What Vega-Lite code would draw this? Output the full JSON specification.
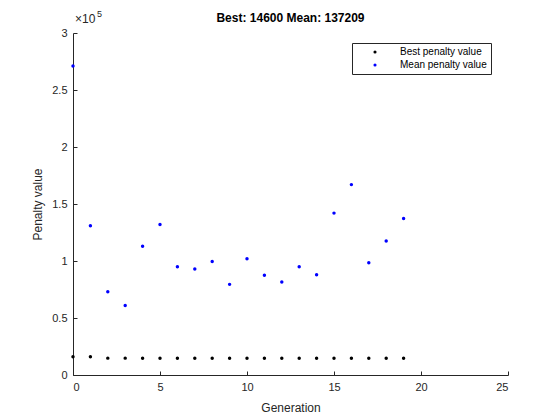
{
  "$schema": "https://vega.github.io/schema/vega-lite/v6.json",
  "width": 435,
  "height": 342,
  "autosize": {"type": "none"},
  "padding": {"left": 73, "top": 33, "right": 52, "bottom": 45},
  "background": "white",
  "config": {
    "font": "Liberation Sans",
    "view": {"stroke": null},
    "axis": {"grid": false, "domainColor": "#262626", "tickColor": "#262626", "labelColor": "#262626", "titleColor": "#262626", "labelFontSize": 11, "titleFontSize": 12, "titleFontWeight": "normal", "tickSize": -4, "labelPadding": 10}
  },
  "title": {"text": "Best: 14600 Mean: 137209", "fontSize": 12, "fontWeight": "bold", "color": "#000000", "offset": 9, "dy": 24, "font": "Liberation Sans"},
  "data": {"values": [
    {"Generation": 0, "series": "Best penalty value", "value": 16000},
    {"Generation": 1, "series": "Best penalty value", "value": 16000},
    {"Generation": 2, "series": "Best penalty value", "value": 14800},
    {"Generation": 3, "series": "Best penalty value", "value": 14800},
    {"Generation": 4, "series": "Best penalty value", "value": 14700},
    {"Generation": 5, "series": "Best penalty value", "value": 14700},
    {"Generation": 6, "series": "Best penalty value", "value": 14700},
    {"Generation": 7, "series": "Best penalty value", "value": 14700},
    {"Generation": 8, "series": "Best penalty value", "value": 14700},
    {"Generation": 9, "series": "Best penalty value", "value": 14600},
    {"Generation": 10, "series": "Best penalty value", "value": 14600},
    {"Generation": 11, "series": "Best penalty value", "value": 14600},
    {"Generation": 12, "series": "Best penalty value", "value": 14600},
    {"Generation": 13, "series": "Best penalty value", "value": 14600},
    {"Generation": 14, "series": "Best penalty value", "value": 14600},
    {"Generation": 15, "series": "Best penalty value", "value": 14600},
    {"Generation": 16, "series": "Best penalty value", "value": 14600},
    {"Generation": 17, "series": "Best penalty value", "value": 14600},
    {"Generation": 18, "series": "Best penalty value", "value": 14600},
    {"Generation": 19, "series": "Best penalty value", "value": 14600},
    {"Generation": 0, "series": "Mean penalty value", "value": 271000},
    {"Generation": 1, "series": "Mean penalty value", "value": 131000},
    {"Generation": 2, "series": "Mean penalty value", "value": 73000},
    {"Generation": 3, "series": "Mean penalty value", "value": 61000},
    {"Generation": 4, "series": "Mean penalty value", "value": 113000},
    {"Generation": 5, "series": "Mean penalty value", "value": 132000},
    {"Generation": 6, "series": "Mean penalty value", "value": 95000},
    {"Generation": 7, "series": "Mean penalty value", "value": 93000},
    {"Generation": 8, "series": "Mean penalty value", "value": 99500},
    {"Generation": 9, "series": "Mean penalty value", "value": 79500},
    {"Generation": 10, "series": "Mean penalty value", "value": 102000},
    {"Generation": 11, "series": "Mean penalty value", "value": 87500},
    {"Generation": 12, "series": "Mean penalty value", "value": 81500},
    {"Generation": 13, "series": "Mean penalty value", "value": 95000},
    {"Generation": 14, "series": "Mean penalty value", "value": 88000},
    {"Generation": 15, "series": "Mean penalty value", "value": 142000},
    {"Generation": 16, "series": "Mean penalty value", "value": 167000},
    {"Generation": 17, "series": "Mean penalty value", "value": 98500},
    {"Generation": 18, "series": "Mean penalty value", "value": 117500},
    {"Generation": 19, "series": "Mean penalty value", "value": 137209}
  ]},
  "layer": [
    {
      "mark": {"type": "point", "filled": true, "size": 12, "opacity": 1},
      "encoding": {
        "x": {"field": "Generation", "type": "quantitative", "scale": {"domain": [0, 25], "nice": false}, "axis": {"values": [0, 5, 10, 15, 20, 25], "title": "Generation", "titlePadding": 10}},
        "y": {"field": "value", "type": "quantitative", "scale": {"domain": [0, 300000], "nice": false}, "axis": {"values": [0, 50000, 100000, 150000, 200000, 250000, 300000], "labelExpr": "datum.value / 100000", "title": "Penalty value", "titlePadding": 7}},
        "color": {"field": "series", "type": "nominal", "scale": {"domain": ["Best penalty value", "Mean penalty value"], "range": ["#000000", "#0000ff"]},
          "legend": {"title": null, "orient": "none", "legendX": 279, "legendY": 10, "strokeColor": "#262626", "fillColor": "white", "padding": 4, "labelFontSize": 10, "labelColor": "#000000", "symbolSize": 10, "symbolType": "circle", "symbolOffset": 14, "labelOffset": 20, "rowPadding": 3, "labelLimit": 200}}
      }
    },
    {
      "data": {"values": [{"x": 0, "y": 300000, "label": "×10"}]},
      "mark": {"type": "text", "align": "left", "baseline": "bottom", "dx": 2, "dy": -7, "fontSize": 12, "color": "#262626"},
      "encoding": {"x": {"field": "x", "type": "quantitative"}, "y": {"field": "y", "type": "quantitative"}, "text": {"field": "label"}}
    },
    {
      "data": {"values": [{"x": 0, "y": 300000, "label": "5"}]},
      "mark": {"type": "text", "align": "left", "baseline": "bottom", "dx": 24, "dy": -14, "fontSize": 9, "color": "#262626"},
      "encoding": {"x": {"field": "x", "type": "quantitative"}, "y": {"field": "y", "type": "quantitative"}, "text": {"field": "label"}}
    }
  ]
}
